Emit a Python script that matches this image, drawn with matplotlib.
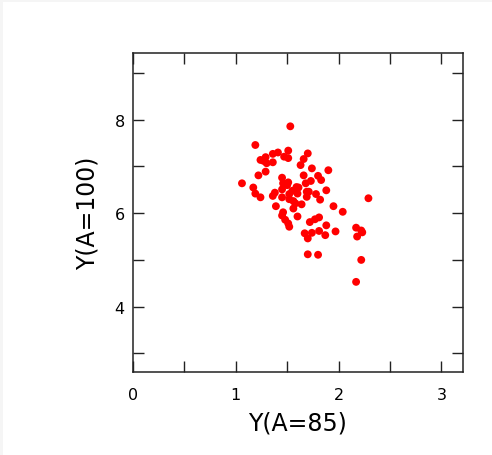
import matplotlib
matplotlib.use("Agg")
import matplotlib.pyplot as plt
from matplotlib.patches import Rectangle
from matplotlib.ticker import MultipleLocator, FixedLocator

# ── Points ──
y85 = [1.53, 1.19, 1.51, 1.70, 1.41, 1.36, 1.36, 1.29, 1.24, 1.27,
       1.30, 1.47, 1.51, 1.66, 1.63, 1.74, 1.90, 1.29, 1.22, 1.66,
       1.80, 1.83, 1.45, 1.06, 1.51, 1.46, 1.73, 1.68, 1.17, 1.59,
       1.61, 1.45, 1.88, 1.69, 1.71, 1.19, 1.24, 1.38, 1.36, 1.45,
       1.52, 1.60, 1.69, 1.78, 1.82, 1.52, 1.56, 1.58, 1.64, 1.56,
       1.39, 1.95, 2.29, 2.04, 1.46, 1.45, 1.60, 1.48, 1.51, 1.52,
       1.81, 1.77, 1.72, 1.88, 1.97, 1.81, 1.67, 1.74, 1.70, 1.87,
       2.17, 2.18, 2.22, 2.23, 1.70, 1.80, 2.22, 2.17, 1.50, 1.55]
y100 = [7.86, 7.46, 7.34, 7.28, 7.30, 7.27, 7.09, 7.20, 7.14, 7.12,
        7.07, 7.21, 7.18, 7.16, 7.03, 6.96, 6.92, 6.89, 6.81, 6.81,
        6.80, 6.71, 6.76, 6.64, 6.66, 6.64, 6.69, 6.64, 6.55, 6.56,
        6.55, 6.51, 6.49, 6.46, 6.46, 6.42, 6.34, 6.44, 6.37, 6.34,
        6.41, 6.42, 6.35, 6.41, 6.29, 6.30, 6.26, 6.21, 6.19, 6.10,
        6.15, 6.15, 6.32, 6.03, 6.02, 5.95, 5.93, 5.86, 5.78, 5.71,
        5.91, 5.87, 5.81, 5.74, 5.61, 5.62, 5.57, 5.58, 5.46, 5.53,
        5.69, 5.50, 5.63, 5.59, 5.12, 5.11, 5.00, 4.53, 6.60, 6.48]

x_labels = [0, 1, 2, 3]
y_labels = [4, 6, 8]

plt.rcParams['font.family'] = ['DejaVu Sans']

fig = plt.figure(figsize=(4.92, 4.56), dpi=100, facecolor="white")
# thin grey frame strip on top / left like the screenshot
fig.patches.append(Rectangle((0, 0.993), 1, 0.007, transform=fig.transFigure,
                             fc="#f5f5f5", ec="none", zorder=0))
fig.patches.append(Rectangle((0, 0), 0.006, 1, transform=fig.transFigure,
                             fc="#f5f5f5", ec="none", zorder=0))

ax = fig.add_axes([0.2703, 0.182, 0.6708, 0.6996])
ax.scatter(y85, y100, s=32, c="#ff0000", edgecolors="none", zorder=3)

ax.set_xlim(0, 3.21)
ax.set_ylim(2.6, 9.43)

ax.xaxis.set_major_locator(FixedLocator(x_labels))
ax.xaxis.set_minor_locator(MultipleLocator(0.5))
ax.yaxis.set_major_locator(FixedLocator(y_labels))
ax.yaxis.set_minor_locator(MultipleLocator(1))

for which in ("major", "minor"):
    ax.tick_params(axis="both", which=which, direction="in", length=8, width=1,
                   top=True, right=True, color="#222222")
ax.tick_params(axis="x", which="major", pad=11, labelsize=11.5)
ax.tick_params(axis="y", which="major", pad=6, labelsize=11.5)

for sp in ax.spines.values():
    sp.set_linewidth(1.1)
    sp.set_color("#222222")

ax.set_xlabel("Y(A=85)", fontsize=17, labelpad=6)
ax.set_ylabel("Y(A=100)", fontsize=17, labelpad=11)

fig.savefig("out.png", dpi=100, facecolor=fig.get_facecolor())
